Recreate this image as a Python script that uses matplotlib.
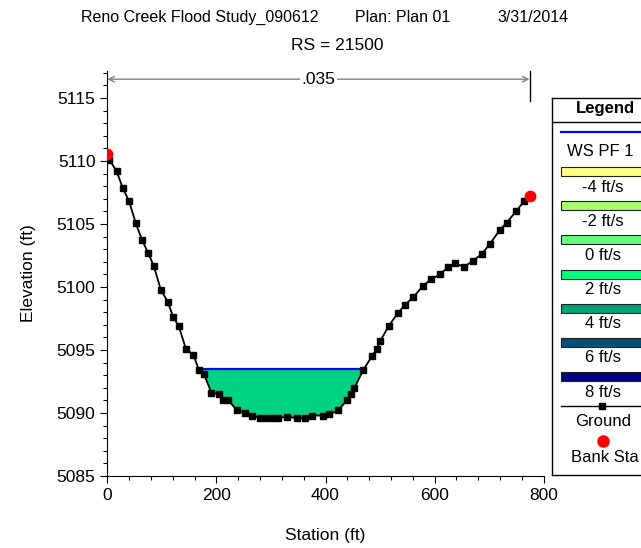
import matplotlib
matplotlib.use("Agg")
import matplotlib.pyplot as plt
import numpy as np
from matplotlib.patches import Rectangle
from matplotlib.ticker import MultipleLocator

plt.rcParams["font.family"] = ["Liberation Sans", "DejaVu Sans"]

# ground survey points (station ft, elevation ft)
station = [0, 4, 17, 28, 40, 52, 64, 75, 85, 98, 111, 121, 131, 144, 158, 168, 177,
           191, 205, 212, 222, 238, 252, 266, 280, 292, 304, 313, 330, 347, 362, 376,
           395, 407, 423, 439, 446, 453, 469, 485, 494, 500, 516, 532, 546, 561, 579,
           593, 610, 625, 637, 654, 671, 686, 701, 719, 732, 749, 764, 774]
elevation = [5110.6, 5110.1, 5109.2, 5107.9, 5106.8, 5105.1, 5103.7, 5102.7, 5101.7,
             5099.8, 5098.8, 5097.6, 5096.9, 5095.1, 5094.6, 5093.4, 5093.1, 5091.6,
             5091.5, 5091.0, 5091.0, 5090.2, 5090.0, 5089.8, 5089.6, 5089.6, 5089.6,
             5089.6, 5089.7, 5089.6, 5089.6, 5089.8, 5089.8, 5089.9, 5090.2, 5091.0,
             5091.5, 5092.0, 5093.4, 5094.5, 5095.1, 5095.7, 5096.9, 5097.9, 5098.6,
             5099.2, 5100.1, 5100.6, 5101.0, 5101.6, 5101.9, 5101.6, 5102.1, 5102.6,
             5103.4, 5104.5, 5105.1, 5106.0, 5106.8, 5107.2]
bank_sta = [0, 774]
ws_elev = 5093.5
mannings_n = ".035"

title_parts = ["Reno Creek Flood Study_090612", "Plan: Plan 01", "3/31/2014"]
legend_speeds = ["-4 ft/s", "-2 ft/s", "0 ft/s", "2 ft/s", "4 ft/s", "6 ft/s", "8 ft/s"]
legend_colors = ["#FFFF80", "#AAFF6E", "#66FF80", "#00FF80", "#00A078", "#005078", "#000080"]

sta = np.array(station, dtype=float)
elev = np.array(elevation, dtype=float)

fig = plt.figure(figsize=(6.41, 5.48), dpi=100)
W, H = 641, 548
ax = fig.add_axes([107.3 / W, (H - 476) / H, (543.7 - 107.3) / W, (476 - 71) / H])

# wetted area: find where the ground crosses the water surface on each side
low = np.argmin(elev)
x_left = np.interp(ws_elev, elev[:low + 1][::-1], sta[:low + 1][::-1])
x_right = np.interp(ws_elev, elev[low:], sta[low:])
inside = (sta > x_left) & (sta < x_right)
poly_x = np.concatenate([[x_left], sta[inside], [x_right]])
poly_y = np.concatenate([[ws_elev], elev[inside], [ws_elev]])
ax.fill_between(poly_x, poly_y, ws_elev, color="#00D284", lw=0, zorder=1)
ax.plot([x_left, x_right], [ws_elev, ws_elev], color="#0000FF", lw=1.6, zorder=2)

ax.plot(sta, elev, color="black", lw=1.3, marker="s", markersize=5, zorder=3)
bank_elev = np.interp(bank_sta, sta, elev)
ax.plot(bank_sta, bank_elev, "o", color="#FF0000", markersize=7.5, lw=0, zorder=4)

ax.set_xlim(0, 800)
ax.set_ylim(5085, 5117.15)
ax.spines["top"].set_visible(False)
ax.spines["right"].set_visible(False)
ax.xaxis.set_major_locator(MultipleLocator(200))
ax.xaxis.set_minor_locator(MultipleLocator(40))
ax.yaxis.set_major_locator(MultipleLocator(5))
ax.yaxis.set_minor_locator(MultipleLocator(1))
ax.tick_params(which="major", length=5, labelsize=12.5, width=0.8)
ax.tick_params(which="minor", length=3, width=0.8)
ax.set_xlabel("Station (ft)", fontsize=12.5, labelpad=18)
ax.set_ylabel("Elevation (ft)", fontsize=12.5, labelpad=15)

# roughness extent between bank stations
n_y = 5116.5
ax.annotate("", xy=(bank_sta[0], n_y), xytext=(bank_sta[1], n_y),
            arrowprops=dict(arrowstyle="<->", color="#808080", lw=1, shrinkA=0, shrinkB=0),
            annotation_clip=False)
ax.text(np.mean(bank_sta), n_y, mannings_n, ha="center", va="center", fontsize=12.5,
        bbox=dict(facecolor="white", edgecolor="none", pad=1))
ax.plot([bank_sta[1], bank_sta[1]], [5114.8, 5117.15], color="black", lw=1, clip_on=False)

for xc, part in zip([200, 403, 533], title_parts):
    fig.text(xc / W, 1 - 17 / H, part, ha="center", va="center", fontsize=11.5)
fig.text(337 / W, 1 - 46 / H, "RS = 21500", ha="center", va="center", fontsize=12.5)

# legend panel, laid out in pixel units
lg = fig.add_axes([552 / W, (H - 475) / H, 100 / W, (475 - 98) / H])
lg.set_xlim(552, 652)
lg.set_ylim(475, 98)
lg.set_xticks([])
lg.set_yticks([])
for s in lg.spines.values():
    s.set_linewidth(1)
lg.text(605, 109, "Legend", ha="center", va="center", fontsize=12, fontweight="bold")
lg.plot([552, 652], [122, 122], color="black", lw=1)
lg.plot([561, 652], [132, 132], color="#0000FF", lw=1.6)
lg.text(600, 151, "WS PF 1", ha="center", va="center", fontsize=12)
for i, (lab, col) in enumerate(zip(legend_speeds, legend_colors)):
    top = 167 + i * 34.2
    lg.add_patch(Rectangle((561, top), 100, 9, facecolor=col, edgecolor="#202020", lw=0.8))
    lg.text(603, top + 20, lab, ha="center", va="center", fontsize=12)
lg.plot([561, 652], [406, 406], color="black", lw=1)
lg.plot([602], [406], "s", color="black", markersize=5)
lg.text(603, 422, "Ground", ha="center", va="center", fontsize=12)
lg.plot([603], [441], "o", color="#FF0000", markersize=8)
lg.text(605, 457, "Bank Sta", ha="center", va="center", fontsize=12)

fig.savefig("out.png", dpi=100)
